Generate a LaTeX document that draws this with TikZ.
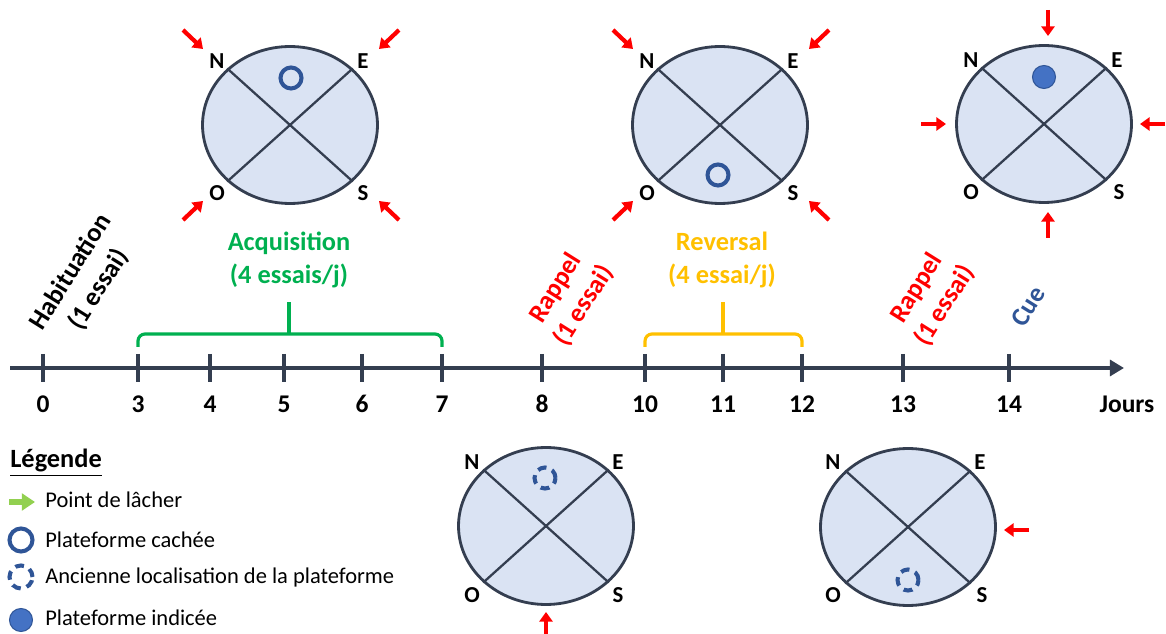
\documentclass[tikz,border=0pt]{standalone}
\usepackage{fontspec}
\setmainfont{Carlito}
\usepackage{tikz}
\usetikzlibrary{positioning,arrows.meta,calc,shapes.geometric}
\definecolor{poolfill}{RGB}{218,227,243}
\definecolor{pooledge}{RGB}{52,62,80}
\definecolor{platblue}{RGB}{47,85,151}
\definecolor{platfill}{RGB}{68,114,196}
\definecolor{acqgreen}{RGB}{0,176,80}
\definecolor{revorange}{RGB}{255,192,0}
\definecolor{lachergreen}{RGB}{146,208,80}

\begin{document}
\begin{tikzpicture}[x=0.02cm,y=-0.02cm,
                  pool/.style={ellipse,draw=pooledge,fill=poolfill,line width=1.6pt,minimum width=3.5cm,minimum height=3.14cm,inner sep=0pt},
                  cross/.style={draw=pooledge,line width=1.3pt},
                  card/.style={font=\fontsize{13}{15}\selectfont\bfseries,inner sep=0pt},
                  rel/.style={-{Triangle[length=5.5pt,width=7.5pt]},line width=2.4pt,red},
                  hidden/.style={circle,draw=platblue,line width=2.3pt,minimum size=0.42cm,inner sep=0pt},
                  old/.style={hidden,dash pattern=on 5pt off 3.5pt},
                  cueplat/.style={circle,draw=platblue,fill=platfill,line width=0.6pt,minimum size=0.46cm,inner sep=0pt},
                  axis/.style={draw=pooledge,line width=2.3pt,-{Triangle[length=8pt,width=9pt]}},
                  tick/.style={draw=pooledge,line width=2.3pt},
                  day/.style={font=\fontsize{14.5}{17}\selectfont\bfseries,anchor=base},
                  phase/.style={font=\fontsize{15}{18.7}\selectfont\bfseries,align=center},
                  tilted/.style={phase,rotate=58},
                  brk/.style={line width=1.8pt,rounded corners=4pt},
                  leg/.style={font=\fontsize{12.8}{15}\selectfont,anchor=base west,inner sep=0pt}
                ]
                \useasboundingbox (0,0) rectangle (1166,634);

                % acquisition pool
                \node[pool] (p1) at (290,125) {};
                \draw[cross] (p1.138) -- (p1.-42);
                \draw[cross] (p1.42) -- (p1.-138);
                \node[card] (p1n) at ($(p1)+(-73,-64)$) {N};
                \node[card] (p1e) at ($(p1)+(73,-64)$) {E};
                \node[card] (p1o) at ($(p1)+(-73,68)$) {O};
                \node[card] (p1s) at ($(p1)+(73,68)$) {S};
                \node[hidden] (h1) at ($(p1)+(1,-47)$) {};
                \draw[rel] ($(p1)+(-107,-95)$) -- ($(p1)+(-87,-76)$);
                \draw[rel] ($(p1)+(109,-95)$) -- ($(p1)+(89,-76)$);
                \draw[rel] ($(p1)+(-107,95)$) -- ($(p1)+(-87,76)$);
                \draw[rel] ($(p1)+(109,95)$) -- ($(p1)+(89,76)$);

                % reversal pool
                \node[pool] (p2) at (720,125) {};
                \draw[cross] (p2.138) -- (p2.-42);
                \draw[cross] (p2.42) -- (p2.-138);
                \node[card] (p2n) at ($(p2)+(-73,-64)$) {N};
                \node[card] (p2e) at ($(p2)+(73,-64)$) {E};
                \node[card] (p2o) at ($(p2)+(-73,68)$) {O};
                \node[card] (p2s) at ($(p2)+(73,68)$) {S};
                \node[hidden] (h2) at ($(p2)+(-2,50)$) {};
                \draw[rel] ($(p2)+(-107,-95)$) -- ($(p2)+(-87,-76)$);
                \draw[rel] ($(p2)+(109,-95)$) -- ($(p2)+(89,-76)$);
                \draw[rel] ($(p2)+(-107,95)$) -- ($(p2)+(-87,76)$);
                \draw[rel] ($(p2)+(109,95)$) -- ($(p2)+(89,76)$);

                % cue pool
                \node[pool] (p3) at (1044,124) {};
                \draw[cross] (p3.138) -- (p3.-42);
                \draw[cross] (p3.42) -- (p3.-138);
                \node[card] (p3n) at ($(p3)+(-73,-64)$) {N};
                \node[card] (p3e) at ($(p3)+(73,-64)$) {E};
                \node[card] (p3o) at ($(p3)+(-73,68)$) {O};
                \node[card] (p3s) at ($(p3)+(75,68)$) {S};
                \node[cueplat] (c3) at ($(p3)+(0,-47)$) {};
                \draw[rel] ($(p3)+(4,-114)$) -- ($(p3)+(4,-88)$);
                \draw[rel] ($(p3)+(4,114)$) -- ($(p3)+(4,88)$);
                \draw[rel] ($(p3)+(-123,0)$) -- ($(p3)+(-98,0)$);
                \draw[rel] ($(p3)+(121,0)$) -- ($(p3)+(96,0)$);

                % first recall pool
                \node[pool] (p4) at (546,526) {};
                \draw[cross] (p4.138) -- (p4.-42);
                \draw[cross] (p4.42) -- (p4.-138);
                \node[card] (p4n) at ($(p4)+(-74,-64)$) {N};
                \node[card] (p4e) at ($(p4)+(72,-64)$) {E};
                \node[card] (p4o) at ($(p4)+(-74,69)$) {O};
                \node[card] (p4s) at ($(p4)+(72,69)$) {S};
                \node[old] (o4) at ($(p4)+(-1,-48)$) {};
                \draw[rel] ($(p4)+(0,110)$) -- ($(p4)+(0,86)$);

                % second recall pool
                \node[pool] (p5) at (908,527) {};
                \draw[cross] (p5.138) -- (p5.-42);
                \draw[cross] (p5.42) -- (p5.-138);
                \node[card] (p5n) at ($(p5)+(-75,-65)$) {N};
                \node[card] (p5e) at ($(p5)+(72,-65)$) {E};
                \node[card] (p5o) at ($(p5)+(-75,68)$) {O};
                \node[card] (p5s) at ($(p5)+(74,68)$) {S};
                \node[old] (o5) at ($(p5)+(0,53)$) {};
                \draw[rel] ($(p5)+(121,3)$) -- ($(p5)+(96,3)$);

                % timeline
                \coordinate (t0) at (10,368);
                \coordinate (tend) at (1124,368);
                \draw[axis] (t0) -- (tend);
                \foreach \d/\x in {0/43,3/138,4/210,5/284,6/362,7/442,8/542,10/645,11/723,12/802,13/903,14/1009}{
                  \draw[tick] (\x,354) -- (\x,382);
                  \node[day] (d\d) at (\x,413) {\d};
                }
                \node[day] (jours) at (1127,413) {Jours};

                % phases
                \draw[brk,acqgreen] (138,347) -- (138,334) -- (442,334) -- (442,347);
                \draw[brk,acqgreen] (289,334) -- (289,302);
                \node[phase,text=acqgreen] (acq) at (289,260) {Acquisition\\(4 essais/j)};
                \draw[brk,revorange] (645,347) -- (645,334) -- (802,334) -- (802,347);
                \draw[brk,revorange] (723,334) -- (723,302);
                \node[phase,text=revorange] (rev) at (722,260) {Reversal\\(4 essai/j)};
                \node[tilted] (hab) at (85,281) {Habituation\\(1 essai)};
                \node[tilted,text=red] (rap1) at (570,297) {Rappel\\(1 essai)};
                \node[tilted,text=red] (rap2) at (931,297) {Rappel\\(1 essai)};
                \node[tilted,text=platblue] (cue) at (1028,306) {Cue};

                % legend
                \node[anchor=base west,inner sep=0pt,font=\fontsize{15}{18}\selectfont\bfseries] (legtitle) at (10,468) {\underline{Légende}};
                \node[leg] (l1) at (45,507) {Point de lâcher};
                \node[leg] (l2) at (45,547) {Plateforme cachée};
                \node[leg] (l3) at (45,583) {Ancienne localisation de la plateforme};
                \node[leg] (l4) at (45,625) {Plateforme indicée};
                \draw[-{Triangle[length=7.5pt,width=9.5pt]},line width=3pt,lachergreen] ($(l1.base west)+(-36,-5)$) -- ($(l1.base west)+(-10,-5)$);
                \node[hidden,minimum size=0.46cm] (s2) at (21,540) {};
                \node[old,minimum size=0.46cm] (s3) at (21,577) {};
                \node[cueplat] (s4) at (21,620) {};
\end{tikzpicture}
\end{document}
